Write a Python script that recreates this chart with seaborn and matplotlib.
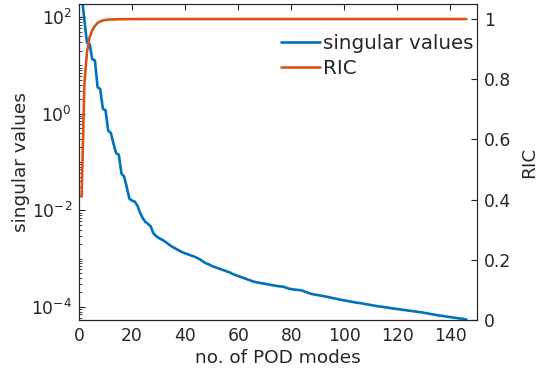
import numpy as np
import pandas as pd
import matplotlib
matplotlib.use("Agg")
import matplotlib.pyplot as plt
import matplotlib.ticker as mticker
import seaborn as sns

# ---- data ----
modes = list(range(1, 147))
# log10 of singular values for each POD mode
sv_exponent = [
    2.47, 1.95, 1.47, 1.44, 1.13, 1.10, 0.55, 0.51, 0.10, 0.07,
    -0.35, -0.40, -0.62, -0.82, -0.85, -1.24, -1.30, -1.52, -1.76, -1.80,
    -1.82, -1.90, -2.05, -2.16, -2.24, -2.28, -2.33, -2.47, -2.53, -2.57,
    -2.60, -2.63, -2.67, -2.71, -2.75, -2.78, -2.81, -2.84, -2.87, -2.89,
    -2.91, -2.93, -2.95, -2.97, -3.00, -3.03, -3.07, -3.10, -3.12, -3.15,
    -3.17, -3.19, -3.21, -3.23, -3.25, -3.27, -3.29, -3.32, -3.34, -3.36,
    -3.38, -3.40, -3.42, -3.44, -3.46, -3.48, -3.49, -3.50, -3.51, -3.52,
    -3.53, -3.54, -3.55, -3.56, -3.57, -3.575, -3.58, -3.60, -3.62, -3.63,
    -3.64, -3.645, -3.65, -3.66, -3.68, -3.70, -3.72, -3.735, -3.745, -3.755,
    -3.765, -3.775, -3.785, -3.795, -3.81, -3.82, -3.83, -3.845, -3.855, -3.865,
    -3.875, -3.885, -3.895, -3.905, -3.915, -3.92, -3.93, -3.94, -3.95, -3.96,
    -3.97, -3.98, -3.99, -3.995, -4.005, -4.01, -4.02, -4.03, -4.035, -4.045,
    -4.05, -4.06, -4.065, -4.075, -4.08, -4.09, -4.095, -4.105, -4.11, -4.12,
    -4.13, -4.14, -4.15, -4.16, -4.17, -4.18, -4.185, -4.195, -4.205, -4.21,
    -4.22, -4.225, -4.235, -4.24, -4.25, -4.26,
]
ric = [
    0.41, 0.78, 0.89, 0.94, 0.963, 0.977, 0.987, 0.992, 0.995, 0.997,
    0.998, 0.9985, 0.999, 0.9993, 0.9995, 0.9996, 0.9997, 0.9998, 0.9999, 1.0,
    1.0, 1.0, 1.0, 1.0, 1.0, 1.0, 1.0, 1.0, 1.0, 1.0,
    1.0, 1.0, 1.0, 1.0, 1.0, 1.0, 1.0, 1.0, 1.0, 1.0,
    1.0, 1.0, 1.0, 1.0, 1.0, 1.0, 1.0, 1.0, 1.0, 1.0,
    1.0, 1.0, 1.0, 1.0, 1.0, 1.0, 1.0, 1.0, 1.0, 1.0,
    1.0, 1.0, 1.0, 1.0, 1.0, 1.0, 1.0, 1.0, 1.0, 1.0,
    1.0, 1.0, 1.0, 1.0, 1.0, 1.0, 1.0, 1.0, 1.0, 1.0,
    1.0, 1.0, 1.0, 1.0, 1.0, 1.0, 1.0, 1.0, 1.0, 1.0,
    1.0, 1.0, 1.0, 1.0, 1.0, 1.0, 1.0, 1.0, 1.0, 1.0,
    1.0, 1.0, 1.0, 1.0, 1.0, 1.0, 1.0, 1.0, 1.0, 1.0,
    1.0, 1.0, 1.0, 1.0, 1.0, 1.0, 1.0, 1.0, 1.0, 1.0,
    1.0, 1.0, 1.0, 1.0, 1.0, 1.0, 1.0, 1.0, 1.0, 1.0,
    1.0, 1.0, 1.0, 1.0, 1.0, 1.0, 1.0, 1.0, 1.0, 1.0,
    1.0, 1.0, 1.0, 1.0, 1.0, 1.0,
]
x_ticks = [0, 20, 40, 60, 80, 100, 120, 140]
ric_ticks = [0, 0.2, 0.4, 0.6, 0.8, 1]
ric_ticklabels = ["0", "0.2", "0.4", "0.6", "0.8", "1"]

df = pd.DataFrame({
    "mode": modes,
    "sv": 10.0 ** np.array(sv_exponent),
    "ric": ric,
})

BLUE = "#0072BD"
ORANGE = "#D95319"
AXC = "#262626"
TICK_FS = 12.3
LABEL_FS = 13.3
LEGEND_FS = 14.3

sns.set_style("white")
plt.rcParams["font.family"] = ["DejaVu Sans"]
plt.rcParams["font.size"] = 12

fig = plt.figure(figsize=(5.37, 3.75), dpi=100)
ax = fig.add_axes([79 / 537, 1 - 320 / 375, (477 - 79) / 537, (320 - 4) / 375])
ax2 = ax.twinx()

sns.lineplot(data=df, x="mode", y="sv", ax=ax, color=BLUE, lw=1.9, label="singular values", legend=False)
sns.lineplot(data=df, x="mode", y="ric", ax=ax2, color=ORANGE, lw=1.9, label="RIC", legend=False)

ax.set_yscale("log")
ax.set_xlim(0, 150)
ax.set_ylim(10 ** -4.27, 10 ** 2.27)
ax2.set_ylim(0, 1.05)

ax.set_xticks(x_ticks)
ax.set_xticklabels([str(t) for t in x_ticks])
ax.yaxis.set_major_locator(mticker.FixedLocator([1e-4, 1e-2, 1e0, 1e2]))
ax.yaxis.set_minor_locator(mticker.LogLocator(base=10, subs=np.arange(1, 10), numticks=30))
ax.yaxis.set_minor_formatter(mticker.NullFormatter())
ax2.set_yticks(ric_ticks)
ax2.set_yticklabels(ric_ticklabels)

for a in (ax, ax2):
    for s in a.spines.values():
        s.set_color(AXC)
        s.set_linewidth(0.8)
ax.tick_params(axis="both", which="major", direction="in", length=4, width=0.8,
               colors=AXC, labelsize=TICK_FS, top=True, labelcolor="#262626", pad=5)
ax.tick_params(axis="y", which="minor", direction="in", length=2, width=0.6, colors=AXC)
ax.tick_params(axis="y", which="both", right=False)
ax2.tick_params(axis="y", which="major", direction="in", length=4, width=0.8,
                colors=AXC, labelsize=TICK_FS, labelcolor="#262626", pad=5)

ax.set_xlabel("no. of POD modes", fontsize=LABEL_FS, color="#262626", labelpad=3)
ax.set_ylabel("singular values", fontsize=LABEL_FS, color="#262626", labelpad=1)
ax2.set_ylabel("RIC", fontsize=LABEL_FS, color="#262626", labelpad=6)

h1, l1 = ax.get_legend_handles_labels()
h2, l2 = ax2.get_legend_handles_labels()
ax2.legend(h1 + h2, l1 + l2, loc="upper right", bbox_to_anchor=(0.99, 0.905),
           frameon=False, fontsize=LEGEND_FS, handlelength=1.95, handletextpad=0.15,
           labelspacing=0.3, borderaxespad=0.0, borderpad=0.0)

fig.savefig("out.png", dpi=100)
